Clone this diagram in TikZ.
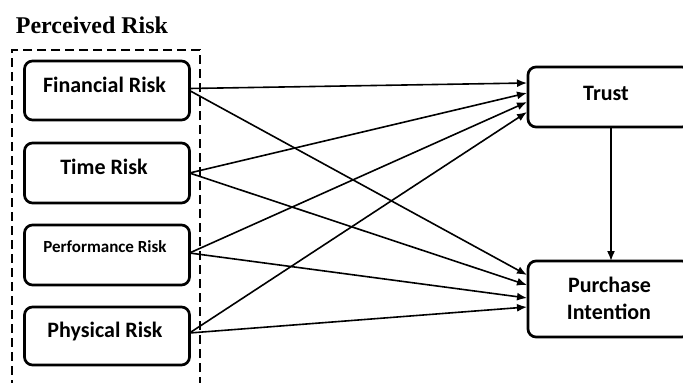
\documentclass[tikz,border=0pt]{standalone}
\usepackage{fontspec}
\setmainfont{Carlito}
\newfontfamily\serifb{Liberation Serif}
\usetikzlibrary{arrows.meta,calc}
\begin{document}
\begin{tikzpicture}[x=1pt,y=-1pt,
  box/.style={draw,line width=2.7pt,rounded corners=8pt,minimum width=165pt,minimum height=59pt,inner sep=0pt,outer sep=0pt},
  rbox/.style={draw,line width=2.7pt,rounded corners=8pt,minimum width=162pt,inner sep=0pt,outer sep=0pt},
  lbl/.style={font=\bfseries\fontsize{22}{27}\selectfont,anchor=base,inner sep=0pt},
  slbl/.style={font=\bfseries\fontsize{17}{20}\selectfont,anchor=base,inner sep=0pt},
  conn/.style={line width=1.6pt,-{Latex[length=10pt,width=8pt]}}]
\useasboundingbox (0,0) rectangle (683,383);
\clip (0,0) rectangle (683,383);
\fill[white] (0,0) rectangle (683,383);
% title
\node[font=\serifb\bfseries\fontsize{24}{28}\selectfont,anchor=base,inner sep=0pt] (title) at (92,33) {Perceived Risk};
% dashed group
\draw[line width=2.8pt,dash pattern=on 9pt off 5pt] (200,400) -- (200,50) -- (12,50) -- (12,400);
% left boxes
\node[box] (fin) at (107,90.5) {};
\node[box,minimum height=60pt] (time) at (107,173) {};
\node[box,minimum height=60pt] (perf) at (107,255) {};
\node[box,minimum height=58pt] (phys) at (107,336) {};
\node[lbl] (tfin) at (104.5,92) {Financial Risk};
\node[lbl] (ttime) at (104,174) {Time Risk};
\node[slbl] (tperf) at (105,252.5) {Performance Risk};
\node[lbl] (tphys) at (105,337) {Physical Risk};
% right boxes
\node[rbox,minimum height=60pt] (trust) at (609,97) {};
\node[rbox,minimum height=76pt] (pi) at (609,299) {};
\node[lbl] (ttrust) at (606,100.5) {Trust};
\node[lbl] (tpi1) at (609.5,292.5) {Purchase};
\node[lbl] (tpi2) at (609,319) {Intention};
% connectors
\draw[conn] ($(fin.east)+(0,-2)$) -- ($(trust.west)+(-1,-14)$);
\draw[conn] (fin.east) -- ($(pi.west)+(-1,-24)$);
\draw[conn] (time.east) -- ($(trust.west)+(-1,-4)$);
\draw[conn] (time.east) -- ($(pi.west)+(-1,-14)$);
\draw[conn] ($(perf.east)+(0,-2)$) -- ($(trust.west)+(-1,5)$);
\draw[conn] ($(perf.east)+(0,-2)$) -- ($(pi.west)+(-1,-1)$);
\draw[conn] ($(phys.east)+(0,-3)$) -- ($(trust.west)+(-1,15)$);
\draw[conn] ($(phys.east)+(0,-3)$) -- ($(pi.west)+(-1,8)$);
\draw[conn] ($(trust.south)+(2,0)$) -- ($(pi.north)+(2,0)$);
\end{tikzpicture}
\end{document}
